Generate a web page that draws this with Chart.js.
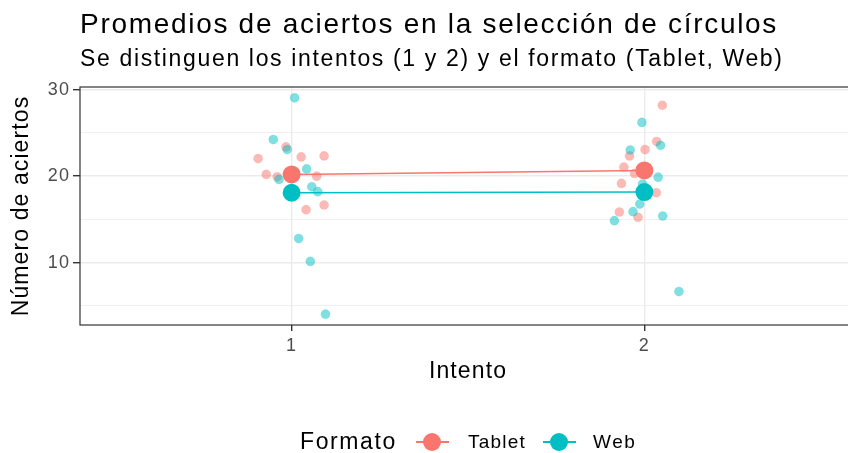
<!DOCTYPE html>
<html>
  <head>
    <title>Promedios de aciertos</title>
    <script src="https://cdn.jsdelivr.net/npm/chart.js"></script>
    <style>
      body { margin: 0; overflow: hidden; background: white; font-family: "Liberation Sans", Arial, sans-serif; }
      .lienzo { position: absolute; left: 0; top: 0; }
      .leyenda { position: absolute; left: 0; top: 0; width: 848px; height: 453px; pointer-events: none; }
      .leyenda span { position: absolute; white-space: nowrap; color: #000; }
      .clave { position: absolute; width: 33px; height: 18px; }
      .clave .linea { position: absolute; left: 0; top: 8px; width: 33px; height: 2px; }
      .clave .punto { position: absolute; left: 7px; top: 0; width: 18px; height: 18px; border-radius: 50%; }
    </style>
  </head>

  <body>
    <canvas id="grafico" class="lienzo" width="870" height="453"></canvas>

    <div class="leyenda">
      <span style="left:300px; top:428px; font-size:23px; letter-spacing:1.6px;">Formato</span>
      <div class="clave" style="left:416px; top:433px;">
        <div class="linea" style="background:#F8766D"></div><div class="punto" style="background:#F8766D"></div>
      </div>
      <span style="left:468px; top:431px; font-size:19px; letter-spacing:1.2px;">Tablet</span>
      <div class="clave" style="left:543px; top:433px;">
        <div class="linea" style="background:#00BFC4"></div><div class="punto" style="background:#00BFC4"></div>
      </div>
      <span style="left:593px; top:431px; font-size:19px; letter-spacing:1.6px;">Web</span>
    </div>

    <script>
      // datos
      var intentos = [1, 2];
      var mediaTablet = [20.2, 20.66];
      var mediaWeb = [18.08, 18.16];

      // puntos individuales (intento con jitter, aciertos)
      var tabletIntento = [0.984, 0.905, 1.027, 1.092, 0.928, 0.959, 1.071, 1.041, 1.092,
                           2.051, 2.035, 2.002, 1.958, 1.942, 1.972, 1.935, 2.034, 1.929, 1.982];
      var tabletAciertos = [23.38, 22.04, 22.22, 22.34, 20.2, 19.92, 20.0, 16.12, 16.66,
                            28.21, 24.0, 23.08, 22.34, 21.04, 20.31, 19.16, 18.08, 15.85, 15.24];
      var webIntento = [1.0085, 0.948, 0.9875, 1.0425, 0.964, 1.057, 1.074, 1.02, 1.053, 1.096,
                        1.993, 2.046, 1.96, 2.039, 1.987, 1.968, 1.915, 2.052, 2.098, 1.995];
      var webAciertos = [29.07, 24.23, 23.08, 20.84, 19.62, 18.77, 18.2, 12.78, 10.13, 4.02,
                         26.22, 23.57, 23.03, 19.88, 16.77, 15.89, 14.85, 15.39, 6.64, 19.08];

      var marcasY = [5, 10, 15, 20, 25, 30];

      var rojo = "#F8766D";
      var cian = "#00BFC4";

      function puntos(xs, ys) {
        return xs.map((x, i) => ({ x: x, y: ys[i] }));
      }

      Chart.defaults.font.family = '"Liberation Sans", Arial, sans-serif';

      var titulos = {
        id: "titulos",
        beforeDraw(chart) {
          // el texto del original es algo mas ancho que Arial
          chart.ctx.letterSpacing = "1.1px";
        },
        afterDatasetsDraw(chart) {
          var ctx = chart.ctx;
          var a = chart.chartArea;
          ctx.save();
          ctx.strokeStyle = "#333333";
          ctx.lineWidth = 1.2;
          ctx.strokeRect(a.left, a.top, a.right - a.left, a.bottom - a.top);
          ctx.restore();
        },
        afterDraw(chart) {
          var ctx = chart.ctx;
          var a = chart.chartArea;
          ctx.save();
          ctx.fillStyle = "#000";
          ctx.textBaseline = "alphabetic";
          ctx.textAlign = "left";
          ctx.font = '28px "Liberation Sans", Arial, sans-serif';
          ctx.letterSpacing = "1.7px";
          ctx.fillText("Promedios de aciertos en la selección de círculos", a.left, 33);
          ctx.font = '23px "Liberation Sans", Arial, sans-serif';
          ctx.letterSpacing = "1.65px";
          ctx.fillText("Se distinguen los intentos (1 y 2) y el formato (Tablet, Web)", a.left, 66);
          ctx.restore();
        },
      };

      var grafico = new Chart(document.getElementById("grafico").getContext("2d"), {
        type: "scatter",
        data: {
          datasets: [
            {
              label: "Tablet",
              data: puntos(tabletIntento, tabletAciertos),
              backgroundColor: "rgba(248,118,109,0.5)",
              borderColor: "rgba(248,118,109,0.2)",
              borderWidth: 0.6,
              pointRadius: 4.6,
              order: 4,
            },
            {
              label: "Web",
              data: puntos(webIntento, webAciertos),
              backgroundColor: "rgba(0,191,196,0.5)",
              borderColor: "rgba(0,191,196,0.2)",
              borderWidth: 0.6,
              pointRadius: 4.6,
              order: 3,
            },
            {
              label: "Tablet media",
              data: puntos(intentos, mediaTablet),
              showLine: true,
              borderColor: rojo,
              backgroundColor: rojo,
              borderWidth: 1.6,
              pointBorderWidth: 0,
              pointRadius: 9,
              order: 2,
            },
            {
              label: "Web media",
              data: puntos(intentos, mediaWeb),
              showLine: true,
              borderColor: cian,
              backgroundColor: cian,
              borderWidth: 1.6,
              pointBorderWidth: 0,
              pointRadius: 9,
              order: 1,
            },
          ],
        },
        options: {
          responsive: false,
          animation: false,
          layout: { padding: { left: 0, top: 87, right: 14, bottom: 68 } },
          plugins: {
            legend: { display: false },
            tooltip: { enabled: false },
          },
          scales: {
            x: {
              type: "linear",
              min: 0.4,
              max: 2.6,
              afterBuildTicks: (eje) => {
                eje.ticks = intentos.map((v) => ({ value: v }));
              },
              afterFit: (eje) => {
                eje.height = 60;
              },
              ticks: {
                autoSkip: false,
                maxRotation: 0,
                padding: 4,
                color: "#4D4D4D",
                font: { size: 18 },
                callback: (v) => String(v),
              },
              grid: {
                color: "#EBEBEB",
                lineWidth: 1.4,
                tickColor: "#333333",
                tickLength: 6,
                tickWidth: 1.4,
              },
              border: { display: false },
              title: {
                display: true,
                text: "Intento",
                color: "#000",
                font: { size: 23 },
                padding: { top: 0, bottom: 0 },
              },
            },
            y: {
              type: "linear",
              min: 2.77,
              max: 30.32,
              afterBuildTicks: (eje) => {
                eje.ticks = marcasY.map((v) => ({ value: v }));
              },
              afterFit: (eje) => {
                eje.width = 80;
              },
              ticks: {
                autoSkip: false,
                padding: 3,
                color: "#4D4D4D",
                font: { size: 18 },
                callback: (v) => (v % 10 === 0 ? String(v) : ""),
              },
              grid: {
                color: "#EBEBEB",
                lineWidth: (c) => (c.tick && c.tick.value % 10 === 0 ? 1.4 : 0.8),
                tickColor: (c) => (c.tick && c.tick.value % 10 === 0 ? "#333333" : "rgba(0,0,0,0)"),
                tickLength: 7,
                tickWidth: 1.4,
              },
              border: { display: false },
              title: {
                display: true,
                text: "Número de aciertos",
                color: "#000",
                font: { size: 23 },
                padding: { top: 8, bottom: 0 },
              },
            },
          },
        },
        plugins: [titulos],
      });
    </script>
  </body>
</html>
